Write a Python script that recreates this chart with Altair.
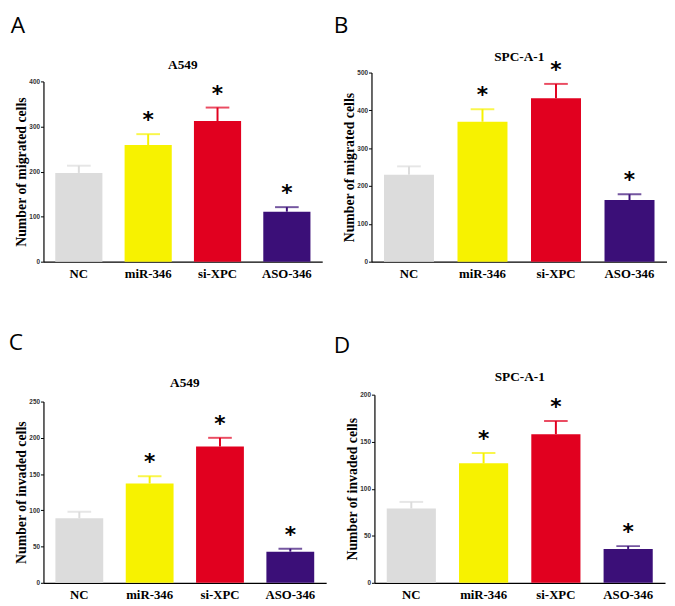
import altair as alt
import pandas as pd

categories = ["NC", "miR-346", "si-XPC", "ASO-346"]
colors = ["#dcdcdc", "#f7f200", "#e1001f", "#3b0f78"]
stars = ["", "*", "*", "*"]

mig_a549 = [197, 259, 312, 111]
mig_a549_err = [213, 283, 342, 121]
mig_spc = [230, 370, 432, 163]
mig_spc_err = [252, 403, 470, 178]
inv_a549 = [89, 137, 188, 43]
inv_a549_err = [98, 147, 200, 47]
inv_spc = [79, 127, 158, 36]
inv_spc_err = [86, 138, 172, 39]

SERIF = "Liberation Serif"


def panel(letter, title, ytitle, vals, errs, ymax, step, w, H, h, lx, ly, ty):
    df = pd.DataFrame({"cat": categories, "val": vals, "err": errs, "star": stars})
    x = alt.X("cat:N", sort=categories, title=None,
              scale=alt.Scale(paddingInner=0.32, paddingOuter=0.17),
              axis=alt.Axis(labelAngle=0, ticks=False, labelFont=SERIF, labelFontSize=13,
                            labelFontWeight="bold", labelColor="#000", labelPadding=6,
                            domainColor="#000", domainWidth=1.2))
    yscale = alt.Scale(domain=[0, ymax], nice=False, zero=True, range=[H, H - h])
    yaxis = alt.Axis(values=list(range(0, ymax + 1, step)), grid=False, labelOverlap=False,
                     labelFont="Liberation Sans", labelFontSize=6.5, labelFontWeight="bold",
                     labelColor="#333", tickSize=3, tickColor="#000", labelPadding=1,
                     domainColor="#000", domainWidth=1.2,
                     titleFont=SERIF, titleFontSize=14, titleFontWeight="bold",
                     titleColor="#000", titlePadding=0)

    def Y(field):
        return alt.Y(field, title=ytitle, scale=yscale, axis=yaxis)

    color = alt.Color("cat:N", scale=alt.Scale(domain=categories, range=colors), legend=None)
    base = alt.Chart(df).encode(x=x)
    bars = base.mark_bar().encode(y=Y("val:Q"), color=color)
    rule = base.mark_rule(strokeWidth=2).encode(y=Y("val:Q"), y2="err:Q", color=color)
    cap = base.mark_tick(size=24, thickness=2).encode(y=Y("err:Q"), color=color)
    star = base.mark_text(font="DejaVu Sans", fontSize=22, fontWeight="bold", dy=-7,
                          baseline="alphabetic", color="#000").encode(y=Y("err:Q"), text="star:N")
    head = alt.Chart(df.head(1))
    lab = head.mark_text(font="Open Sans", fontSize=23, align="center",
                         baseline="middle", color="#000").encode(
        x=alt.value(lx), y=alt.value(ly), text=alt.value(letter))
    ttl = head.mark_text(font=SERIF, fontSize=13.5, fontWeight="bold", align="center",
                         baseline="middle", color="#000").encode(
        x=alt.value(w / 2), y=alt.value(ty), text=alt.value(title))
    return alt.layer(bars, rule, cap, star, lab, ttl).properties(width=w, height=H)


pa = panel("A", "A549", "Number of migrated cells", mig_a549, mig_a549_err, 400, 100,
           283, 192, 183, -26, -47, -8)
pb = panel("B", "SPC-A-1", "Number of migrated cells", mig_spc, mig_spc_err, 500, 100,
           300, 192, 192, -31, -47, -16)
pc = panel("C", "A549", "Number of invaded cells", inv_a549, inv_a549_err, 250, 50,
           287, 191, 184, -28, -52, -12)
pd_ = panel("D", "SPC-A-1", "Number of invaded cells", inv_spc, inv_spc_err, 200, 50,
            295, 191, 191, -33, -49, -18)

chart = alt.vconcat(
    alt.hconcat(pa, pb, spacing=11),
    alt.hconcat(pc, pd_, spacing=7),
    spacing=53,
).configure(padding={"top": 3, "left": 0, "right": 0, "bottom": 0}).configure_view(stroke=None)

chart.save("out.html", embed_options={"renderer": "svg", "actions": False})
